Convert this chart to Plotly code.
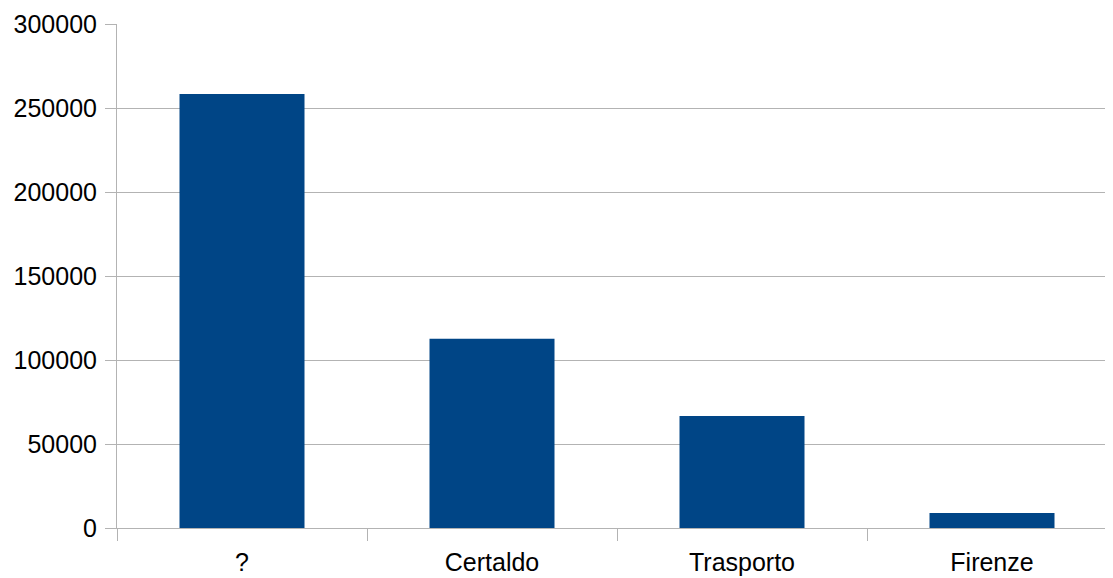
import plotly.graph_objects as go

categories = ["?", "Certaldo", "Trasporto", "Firenze"]
values = [258400, 112600, 66700, 8900]
y_ticks = [0, 50000, 100000, 150000, 200000, 250000, 300000]

grid = "#b3b3b3"
fig = go.Figure(go.Bar(x=categories, y=values, marker=dict(color="#004586", line=dict(width=0)), width=0.5))
fig.update_layout(
    width=1105, height=570,
    margin=dict(l=109, r=0, t=16, b=50, autoexpand=False),
    paper_bgcolor="white", plot_bgcolor="white",
    font=dict(family="Liberation Sans, Arial, sans-serif", size=25, color="black"),
    showlegend=False,
)
fig.update_xaxes(
    type="category", range=[-0.5, 3.484], tickson="boundaries",
    ticks="outside", ticklen=12, tickcolor=grid, tickwidth=1,
    showline=True, linecolor=grid, linewidth=1, showgrid=False,
    fixedrange=True, automargin=False, ticklabelstandoff=12,
)
fig.update_yaxes(
    range=[0, 300000], tickvals=y_ticks, tickformat="d",
    ticks="outside", ticklen=11, tickcolor=grid, tickwidth=1,
    showgrid=True, gridcolor=grid, gridwidth=1,
    showline=True, linecolor=grid, linewidth=1, zeroline=False,
    automargin=False, ticklabelstandoff=3,
)
fig.write_html("out.html")
